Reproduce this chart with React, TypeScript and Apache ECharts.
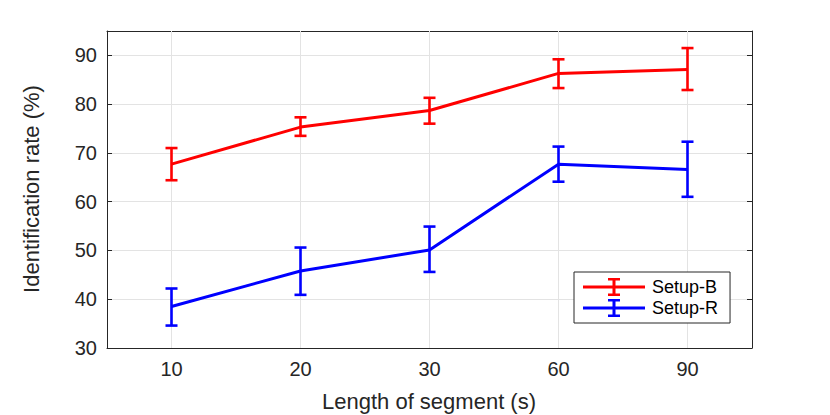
import React, { useEffect, useRef } from "react";
import * as echarts from "echarts";

const categories = ["10", "20", "30", "60", "90"];
const setupBMean = [67.7, 75.3, 78.7, 86.3, 87.1];
const setupBLow = [64.4, 73.5, 76.0, 83.3, 82.9];
const setupBHigh = [71.0, 77.3, 81.3, 89.2, 91.5];
const setupRMean = [38.5, 45.8, 50.1, 67.7, 66.6];
const setupRLow = [34.6, 40.9, 45.6, 64.1, 61.0];
const setupRHigh = [42.2, 50.6, 54.9, 71.3, 72.3];
const yTicks = { min: 30, max: 95, interval: 10 };

const AXIS = "#262626";
const GRIDC = "#e3e3e3";
const FONT = "Liberation Sans, Arial, Helvetica, sans-serif";

const legendIcon =
  "path://M0,8.5H62V11.5H0Z M29.5,1H32.5V19H29.5Z M25,1H37V3.5H25Z M25,16.5H37V19H25Z";

function errorSeries(name: string, low: number[], high: number[], color: string) {
  return {
    type: "custom",
    name,
    z: 3,
    data: low.map((l, i) => [i, l, high[i]]),
    encode: { x: 0, y: [1, 2] },
    renderItem: (params: any, api: any) => {
      const x = api.value(0);
      const lo = api.coord([x, api.value(1)]);
      const hi = api.coord([x, api.value(2)]);
      const hw = 6;
      const mk = () => ({ stroke: color, lineWidth: 2.6, fill: "none" });
      return {
        type: "group",
        children: [
          { type: "line", z2: 10, shape: { x1: lo[0], y1: lo[1], x2: hi[0], y2: hi[1] }, style: mk() },
          { type: "line", z2: 10, shape: { x1: lo[0] - hw, y1: lo[1], x2: lo[0] + hw, y2: lo[1] }, style: mk() },
          { type: "line", z2: 10, shape: { x1: hi[0] - hw, y1: hi[1], x2: hi[0] + hw, y2: hi[1] }, style: mk() },
        ],
      };
    },
  };
}

export default function App() {
  const ref = useRef<HTMLDivElement>(null);
  useEffect(() => {
    document.body.style.margin = "0";
    const chart = echarts.init(ref.current!, null, { renderer: "svg" });
    const baseX = {
      type: "category",
      data: categories,
      boundaryGap: true,
      axisLine: { show: true, lineStyle: { color: AXIS, width: 1 } },
      axisTick: { show: true, inside: true, length: 5, alignWithLabel: true, lineStyle: { color: AXIS } },
      splitLine: { show: false },
    };
    const baseY = {
      type: "value",
      min: yTicks.min,
      max: yTicks.max,
      interval: yTicks.interval,
      axisLine: { show: true, lineStyle: { color: AXIS, width: 1 } },
      axisTick: { show: true, inside: true, length: 5, lineStyle: { color: AXIS } },
    };
    chart.setOption({
      animation: false,
      backgroundColor: "#ffffff",
      grid: { left: 107, right: 78, top: 31, bottom: 67, containLabel: false },
      xAxis: [
        {
          ...baseX,
          position: "bottom",
          axisLabel: { color: AXIS, fontSize: 20, fontFamily: FONT, margin: 11 },
        },
        {
          ...baseX,
          position: "top",
          axisLabel: { show: false },
        },
      ],
      yAxis: [
        {
          ...baseY,
          position: "left",
          axisLabel: { color: AXIS, fontSize: 20, fontFamily: FONT, margin: 10, showMaxLabel: false },
          splitLine: { show: true, lineStyle: { color: GRIDC, width: 1 } },
        },
        {
          ...baseY,
          position: "right",
          axisLabel: { show: false },
          splitLine: { show: false },
        },
      ],
      legend: {
        data: ["Setup-B", "Setup-R"],
        orient: "vertical",
        left: 574,
        top: 272,
        padding: [6, 12, 6, 9],
        itemGap: 3,
        itemWidth: 62,
        itemHeight: 20,
        icon: legendIcon,
        borderColor: AXIS,
        borderWidth: 1,
        backgroundColor: "#ffffff",
        textStyle: { color: "#000000", fontSize: 18, fontFamily: FONT, padding: [0, 0, 0, 2] },
      },
      graphic: [
        {
          type: "text",
          x: 429,
          y: 401,
          style: {
            text: "Length of segment (s)",
            fontSize: 22,
            fontFamily: FONT,
            fill: AXIS,
            align: "center",
            verticalAlign: "middle",
          },
        },
        {
          type: "text",
          x: 31,
          y: 189,
          rotation: Math.PI / 2,
          style: {
            text: "Identification rate (%)",
            fontSize: 22,
            fontFamily: FONT,
            fill: AXIS,
            align: "center",
            verticalAlign: "middle",
          },
        },
      ],
      series: [
        {
          type: "line",
          name: "xgrid",
          data: [],
          z: 1,
          silent: true,
          markLine: {
            z: 1,
            silent: true,
            symbol: ["none", "none"],
            label: { show: false },
            lineStyle: { color: GRIDC, width: 1, type: "solid" },
            data: categories.map((c) => ({ xAxis: c })),
          },
        },
        {
          type: "line",
          name: "Setup-B",
          data: setupBMean,
          symbol: "none",
          z: 4,
          lineStyle: { color: "#ff0000", width: 3 },
          itemStyle: { color: "#ff0000" },
        },
        {
          type: "line",
          name: "Setup-R",
          data: setupRMean,
          symbol: "none",
          z: 4,
          lineStyle: { color: "#0000ff", width: 3 },
          itemStyle: { color: "#0000ff" },
        },
        errorSeries("Setup-B err", setupBLow, setupBHigh, "#ff0000"),
        errorSeries("Setup-R err", setupRLow, setupRHigh, "#0000ff"),
      ],
    });
    return () => chart.dispose();
  }, []);
  return <div ref={ref} style={{ width: 830, height: 415 }} />;
}
